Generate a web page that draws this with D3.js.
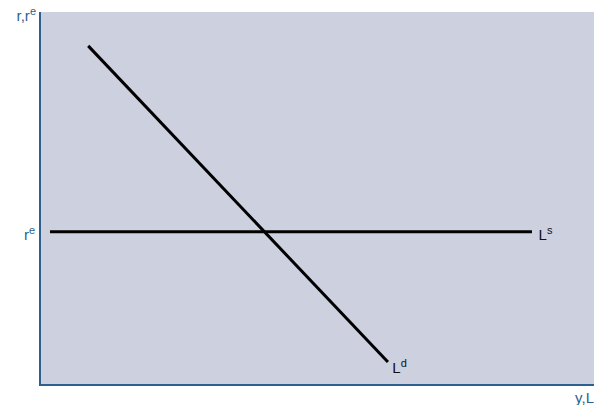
<!DOCTYPE html>
<html>
<head>
<meta charset="utf-8">
<script src="https://cdn.jsdelivr.net/npm/d3@7"></script>
<style>
html,body{margin:0;padding:0;background:#fff;}
svg{display:block;}
text{font-family:"Liberation Sans",Arial,sans-serif;}
</style>
</head>
<body>
<svg id="chart" width="594" height="405"></svg>
<script>
// Data (abstract units 0-100 on both axes)
const demandCurve = [ {x: 8.7, y: 90.9}, {x: 62.8, y: 5.9} ];   // L^d
const supplyCurve = [ {x: 1.8, y: 40.9}, {x: 88.8, y: 40.9} ];  // L^s
const reLevel = 40.9;
const curveLabels = [
  {base: "L", sup: "s", x: 90.0, y: 40.9},
  {base: "L", sup: "d", x: 63.6, y: 5.2}
];
const axisLabels = { y: ["r,r", "e"], x: "y,L", tick: ["r", "e"] };

const svg = d3.select("#chart");
const mLeft = 40, mRight = 594, mTop = 12, mBottom = 384;
const x = d3.scaleLinear().domain([0, 100]).range([mLeft, mRight]);
const y = d3.scaleLinear().domain([0, 100]).range([mBottom, mTop]);

const axisColor = "#2e5f8f";
const textColor = "#2e5f8f";

svg.append("rect")
  .attr("x", mLeft).attr("y", mTop)
  .attr("width", mRight - mLeft).attr("height", mBottom - mTop)
  .attr("fill", "#cdd0df");

// axes
svg.append("line").attr("x1", mLeft).attr("x2", mLeft).attr("y1", mTop).attr("y2", mBottom + 1)
  .attr("stroke", axisColor).attr("stroke-width", 2);
svg.append("line").attr("x1", mLeft - 1).attr("x2", mRight).attr("y1", mBottom + 1).attr("y2", mBottom + 1)
  .attr("stroke", axisColor).attr("stroke-width", 2);

const line = d3.line().x(d => x(d.x)).y(d => y(d.y));
[demandCurve, supplyCurve].forEach(c => {
  svg.append("path").attr("d", line(c)).attr("fill", "none")
    .attr("stroke", "#000").attr("stroke-width", 3);
});

function supText(g, base, sup, px, py, anchor, color) {
  const t = g.append("text").attr("x", px).attr("y", py)
    .attr("text-anchor", anchor).attr("fill", color).attr("font-size", 15);
  t.append("tspan").text(base);
  t.append("tspan").attr("dy", -6).attr("font-size", 11).text(sup);
  return t;
}

supText(svg, axisLabels.y[0], axisLabels.y[1], 36, 21, "end", textColor);
supText(svg, axisLabels.tick[0], axisLabels.tick[1], 35, y(reLevel) + 8, "end", textColor);
svg.append("text").attr("x", 594).attr("y", 403).attr("text-anchor", "end")
  .attr("fill", textColor).attr("font-size", 15).text(axisLabels.x);

curveLabels.forEach(l => {
  supText(svg, l.base, l.sup, x(l.x), y(l.y) + 8, "start", "#111");
});
</script>
</body>
</html>
